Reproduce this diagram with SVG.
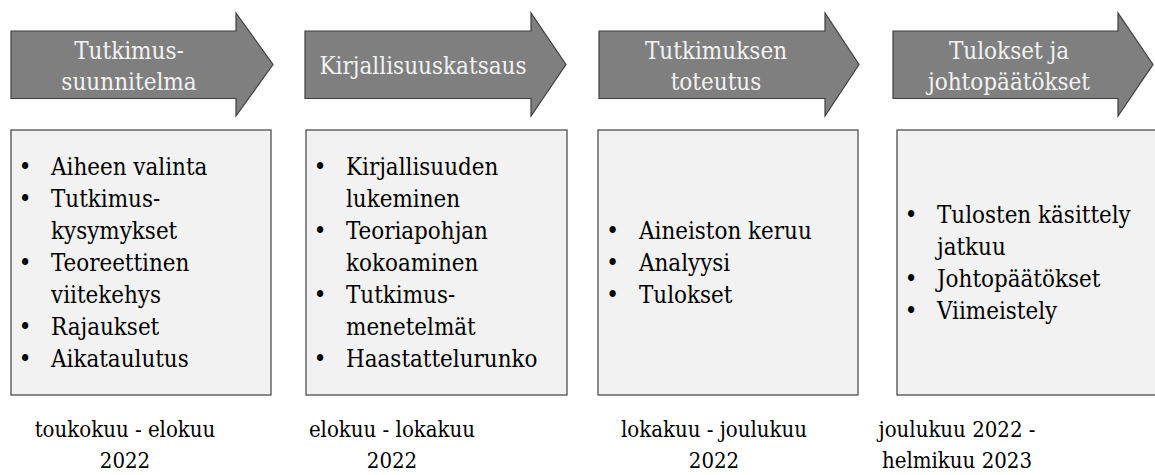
<svg xmlns="http://www.w3.org/2000/svg" width="1155" height="475" viewBox="0 0 1155 475">
<style>
.arrow{fill:#7f7f7f;stroke:#3f3f3f;stroke-width:1.2}
.box{fill:#f2f2f2;stroke:#404040;stroke-width:1.2}
text{font-family:'DejaVu Serif Condensed','DejaVu Serif',serif;font-stretch:condensed}
.at{font-size:24px;fill:#f2f2f2;text-anchor:middle}
.bt{font-size:23.9px;fill:#000}
.bu{font-size:23.9px;fill:#000;text-anchor:middle}
.dt{font-size:22px;fill:#000;text-anchor:middle}
</style>
<rect width="1155" height="475" fill="#fff"/>
<g id="connectors"></g>

<g id="phase1">
<path class="arrow" d="M11,31 H236 V13 L273,64.5 L236,116 V98.5 H11 Z"/>
<text class="at" x="129" y="59">Tutkimus-</text>
<text class="at" x="129" y="90">suunnitelma</text>
<rect class="box" x="11" y="130" width="260" height="265"/>
<text class="bu" x="25" y="175">•</text><text class="bt" x="51" y="175">Aiheen valinta</text>
<text class="bu" x="25" y="207">•</text><text class="bt" x="51" y="207">Tutkimus-</text>
<text class="bt" x="51" y="239">kysymykset</text>
<text class="bu" x="25" y="271">•</text><text class="bt" x="51" y="271">Teoreettinen</text>
<text class="bt" x="51" y="303">viitekehys</text>
<text class="bu" x="25" y="335">•</text><text class="bt" x="51" y="335">Rajaukset</text>
<text class="bu" x="25" y="367">•</text><text class="bt" x="51" y="367">Aikataulutus</text>
<text class="dt" x="125" y="437">toukokuu - elokuu</text>
<text class="dt" x="125" y="468">2022</text>
</g>

<g id="phase2">
<path class="arrow" d="M305,31 H531 V13 L566,64.5 L531,116 V98.5 H305 Z"/>
<text class="at" x="423" y="74">Kirjallisuuskatsaus</text>
<rect class="box" x="306" y="130" width="261" height="265"/>
<text class="bu" x="320" y="175">•</text><text class="bt" x="346" y="175">Kirjallisuuden</text>
<text class="bt" x="346" y="207">lukeminen</text>
<text class="bu" x="320" y="239">•</text><text class="bt" x="346" y="239">Teoriapohjan</text>
<text class="bt" x="346" y="271">kokoaminen</text>
<text class="bu" x="320" y="303">•</text><text class="bt" x="346" y="303">Tutkimus-</text>
<text class="bt" x="346" y="335">menetelmät</text>
<text class="bu" x="320" y="367">•</text><text class="bt" x="346" y="367">Haastattelurunko</text>
<text class="dt" x="392" y="437">elokuu - lokakuu</text>
<text class="dt" x="392" y="468">2022</text>
</g>

<g id="phase3">
<path class="arrow" d="M599,31 H825 V13 L859,64.5 L825,116 V98.5 H599 Z"/>
<text class="at" x="716" y="59">Tutkimuksen</text>
<text class="at" x="716" y="90">toteutus</text>
<rect class="box" x="598" y="130" width="260" height="265"/>
<text class="bu" x="612.5" y="239">•</text><text class="bt" x="639" y="239">Aineiston keruu</text>
<text class="bu" x="612.5" y="271">•</text><text class="bt" x="639" y="271">Analyysi</text>
<text class="bu" x="612.5" y="303">•</text><text class="bt" x="639" y="303">Tulokset</text>
<text class="dt" x="714" y="437">lokakuu - joulukuu</text>
<text class="dt" x="714" y="468">2022</text>
</g>

<g id="phase4">
<path class="arrow" d="M893,31 H1118 V13 L1153,64.5 L1118,116 V98.5 H893 Z"/>
<text class="at" x="1009" y="59">Tulokset ja</text>
<text class="at" x="1009" y="90">johtopäätökset</text>
<rect class="box" x="897" y="130" width="260" height="265"/>
<text class="bu" x="911" y="223">•</text><text class="bt" x="937" y="223">Tulosten käsittely</text>
<text class="bt" x="937" y="255">jatkuu</text>
<text class="bu" x="911" y="287">•</text><text class="bt" x="937" y="287">Johtopäätökset</text>
<text class="bu" x="911" y="319">•</text><text class="bt" x="937" y="319">Viimeistely</text>
<text class="dt" x="957" y="437">joulukuu 2022 -</text>
<text class="dt" x="957" y="468">helmikuu 2023</text>
</g>
</svg>
